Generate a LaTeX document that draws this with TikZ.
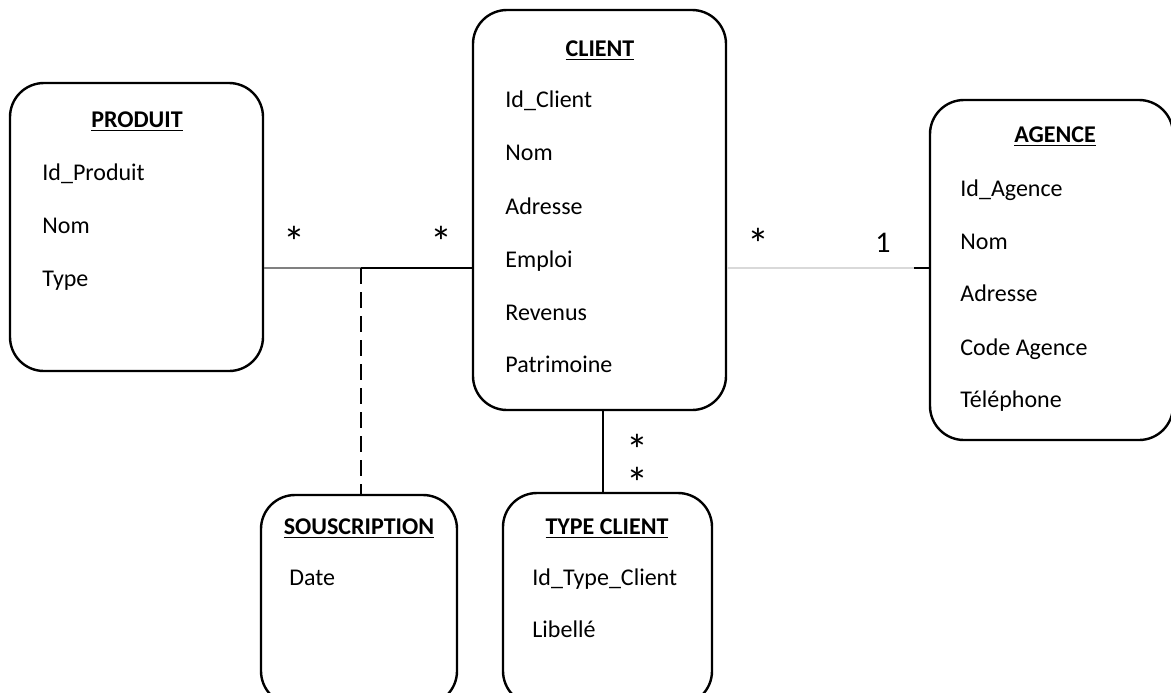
\documentclass[tikz,border=0pt]{standalone}
\usepackage{fontspec}
\setmainfont{Carlito}
\tikzset{
  entity/.style={draw, line width=1.2pt, rounded corners=17pt, inner sep=0pt},
  attr/.style={anchor=base west, inner sep=0pt, font=\fontsize{12}{14}\selectfont},
  title/.style={anchor=base, inner sep=0pt, font=\fontsize{12}{14}\selectfont\bfseries},
  mult/.style={anchor=center, inner sep=0pt, font=\fontsize{22}{16.5}\selectfont},
  link/.style={line width=0.8pt}
}
\begin{document}
\begin{tikzpicture}[x=0.5pt, y=-0.5pt]
                \useasboundingbox (0,0) rectangle (1171,692);
                \node[entity, minimum width=126.5pt, minimum height=144pt] (produit) at (136.5,227) {};
                \node[entity, minimum width=126.5pt, minimum height=200pt] (client) at (599.5,210) {};
                \node[entity, minimum width=121.5pt, minimum height=170pt] (agence) at (1051.5,270) {};
                \node[entity, minimum width=98pt, minimum height=105pt] (souscription) at (359,600) {};
                \node[entity, minimum width=104.5pt, minimum height=106pt] (typeclient) at (607.5,599) {};

                \node[title] (tproduit) at (137,127) {\underline{PRODUIT}};
                \node[attr] (idproduit) at (42,180) {Id\_Produit};
                \node[attr] (nomproduit) at (42,233) {Nom};
                \node[attr] (typeproduit) at (42,286) {Type};

                \node[title] (tclient) at (600,56) {\underline{CLIENT}};
                \node[attr] (idclient) at (505,107) {Id\_Client};
                \node[attr] (nomclient) at (505,160) {Nom};
                \node[attr] (adrclient) at (505,214) {Adresse};
                \node[attr] (emploi) at (505,267) {Emploi};
                \node[attr] (revenus) at (505,320) {Revenus};
                \node[attr] (patrimoine) at (505,372) {Patrimoine};

                \node[title] (tagence) at (1055,142) {\underline{AGENCE}};
                \node[attr] (idagence) at (960,196) {Id\_Agence};
                \node[attr] (nomagence) at (960,249) {Nom};
                \node[attr] (adragence) at (960,301) {Adresse};
                \node[attr] (codeagence) at (960,355) {Code Agence};
                \node[attr] (telagence) at (960,407) {Téléphone};

                \node[title] (tsouscription) at (359,534) {\underline{SOUSCRIPTION}};
                \node[attr] (date) at (289,585) {Date};

                \node[title] (ttypeclient) at (607,534) {\underline{TYPE CLIENT}};
                \node[attr] (idtypeclient) at (532,585) {Id\_Type\_Client};
                \node[attr] (libelle) at (532,637) {Libellé};

                \node[mult] (m1) at (294,242) {*};
                \node[mult] (m2) at (441,242) {*};
                \node[mult] (m3) at (758,244) {*};
                \node[mult, anchor=base, font=\fontsize{15}{18}\selectfont] (m4) at (883,252) {1};
                \node[mult, align=center] (m5) at (637,466) {*\\*};

                \coordinate (jn) at (361,268);
                \coordinate (ja) at (914,268);

                \draw[link, black!50] (produit.east |- jn) to (jn); \draw[link] (jn) to (client.west |- jn);
                \draw[link, dashed, dash pattern=on 8pt off 4pt] (jn) to (jn |- souscription.north);
                \draw[link, black!15] (client.east |- ja) to (ja); \draw[link] (ja) to (agence.west |- ja);
                \draw[link] (client.south -| 603,0) to (typeclient.north -| 603,0);
            \end{tikzpicture}
\end{document}
